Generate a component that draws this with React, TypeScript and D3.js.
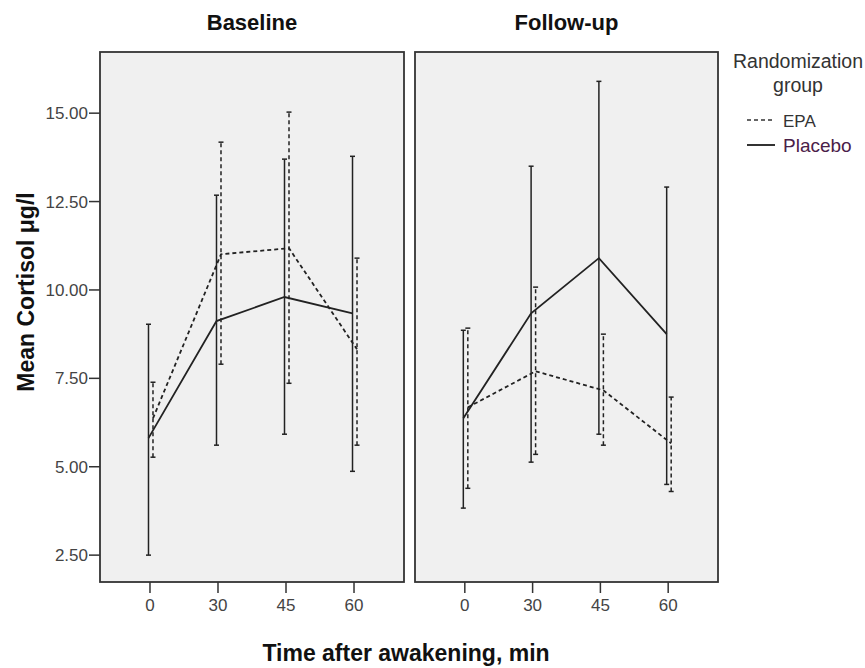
import React from "react";
import * as d3 from "d3";

const times = ["0", "30", "45", "60"];
const yTicks = [2.5, 5, 7.5, 10, 12.5, 15];

const baselinePlaceboMean = [5.81, 9.12, 9.8, 9.34];
const baselinePlaceboLow = [2.5, 5.61, 5.92, 4.87];
const baselinePlaceboHigh = [9.03, 12.68, 13.7, 13.78];
const baselineEpaMean = [6.37, 11.01, 11.18, 8.32];
const baselineEpaLow = [5.27, 7.9, 7.36, 5.61];
const baselineEpaHigh = [7.39, 14.18, 15.03, 10.9];

const followPlaceboMean = [6.37, 9.34, 10.9, 8.75];
const followPlaceboLow = [3.83, 5.13, 5.92, 4.5];
const followPlaceboHigh = [8.86, 13.5, 15.9, 12.91];
const followEpaMean = [6.68, 7.7, 7.16, 5.66];
const followEpaLow = [4.39, 5.35, 5.61, 4.3];
const followEpaHigh = [8.92, 10.08, 8.75, 6.97];

const panels = [
  {
    title: "Baseline",
    x0: 100,
    x1: 404,
    series: [
      { name: "Placebo", mean: baselinePlaceboMean, low: baselinePlaceboLow, high: baselinePlaceboHigh, dash: null, dx: -1.5 },
      { name: "EPA", mean: baselineEpaMean, low: baselineEpaLow, high: baselineEpaHigh, dash: "4,3", dx: 3 },
    ],
  },
  {
    title: "Follow-up",
    x0: 415,
    x1: 718,
    series: [
      { name: "Placebo", mean: followPlaceboMean, low: followPlaceboLow, high: followPlaceboHigh, dash: null, dx: -1.5 },
      { name: "EPA", mean: followEpaMean, low: followEpaLow, high: followEpaHigh, dash: "4,3", dx: 3 },
    ],
  },
];

const top = 52;
const bottom = 582;
const font = "'Liberation Sans', Arial, sans-serif";

const y = d3.scaleLinear().domain([1.74, 16.73]).range([bottom, top]);
const fmt = d3.format(".2f");

function Panel({ p }: { p: any }) {
  const x = d3.scalePoint().domain(times).range([p.x0, p.x1]).padding(0.735);
  const line = d3.line<number>();
  return (
    <g>
      <text x={(p.x0 + p.x1) / 2} y={30} textAnchor="middle" fontFamily={font} fontWeight="bold" fontSize={22} fill="#111">
        {p.title}
      </text>
      <rect x={p.x0} y={top} width={p.x1 - p.x0} height={bottom - top} fill="#f0f0f0" stroke="#333" strokeWidth={1.8} />
      {times.map((t) => (
        <g key={t}>
          <line x1={x(t)} x2={x(t)} y1={bottom} y2={bottom + 11} stroke="#333" strokeWidth={1.5} />
          <text x={x(t)} y={bottom + 29} textAnchor="middle" fontFamily={font} fontSize={17} fill="#444">
            {t}
          </text>
        </g>
      ))}
      {p.series.map((s: any) => (
        <g key={s.name} stroke="#222" fill="none">
          <path
            d={line(s.mean.map((m: number, i: number) => [x(times[i])! + s.dx, y(m)]) as any) || ""}
            strokeWidth={1.8}
            strokeDasharray={s.dash || undefined}
          />
          {times.map((t, i) => {
            const cx = x(t)! + s.dx;
            return (
              <g key={t}>
                <line x1={cx} x2={cx} y1={y(s.low[i])} y2={y(s.high[i])} strokeWidth={1.5} strokeDasharray={s.dash || undefined} />
                <line x1={cx - 2.5} x2={cx + 2.5} y1={y(s.low[i])} y2={y(s.low[i])} strokeWidth={1.5} />
                <line x1={cx - 2.5} x2={cx + 2.5} y1={y(s.high[i])} y2={y(s.high[i])} strokeWidth={1.5} />
              </g>
            );
          })}
        </g>
      ))}
    </g>
  );
}

export default function App() {
  return (
    <svg width={865} height={668} style={{ position: "absolute", left: 0, top: 0, background: "#fff" }}>
      {yTicks.map((v) => (
        <g key={v}>
          <line x1={89} x2={100} y1={y(v)} y2={y(v)} stroke="#333" strokeWidth={1.5} />
          <text x={88} y={y(v) + 6} textAnchor="end" fontFamily={font} fontSize={17} fill="#444">
            {fmt(v)}
          </text>
        </g>
      ))}
      {panels.map((p) => (
        <Panel key={p.title} p={p} />
      ))}
      <text
        transform={`translate(34,292) rotate(-90)`}
        textAnchor="middle"
        fontFamily={font}
        fontWeight="bold"
        fontSize={23}
        fill="#111"
      >
        Mean Cortisol μg/l
      </text>
      <text x={406} y={661} textAnchor="middle" fontFamily={font} fontWeight="bold" fontSize={23} fill="#111">
        Time after awakening, min
      </text>
      <g fontFamily={font} fill="#333">
        <text x={798} y={68} textAnchor="middle" fontSize={19.5}>Randomization</text>
        <text x={798} y={92} textAnchor="middle" fontSize={19.5}>group</text>
        <line x1={747} x2={773} y1={120} y2={120} stroke="#333" strokeWidth={1.5} strokeDasharray="4,3" />
        <text x={783} y={127} fontSize={17}>EPA</text>
        <line x1={747} x2={775} y1={145} y2={145} stroke="#333" strokeWidth={2} />
        <text x={783} y={152} fontSize={19} fill="#4a2048">Placebo</text>
      </g>
    </svg>
  );
}
